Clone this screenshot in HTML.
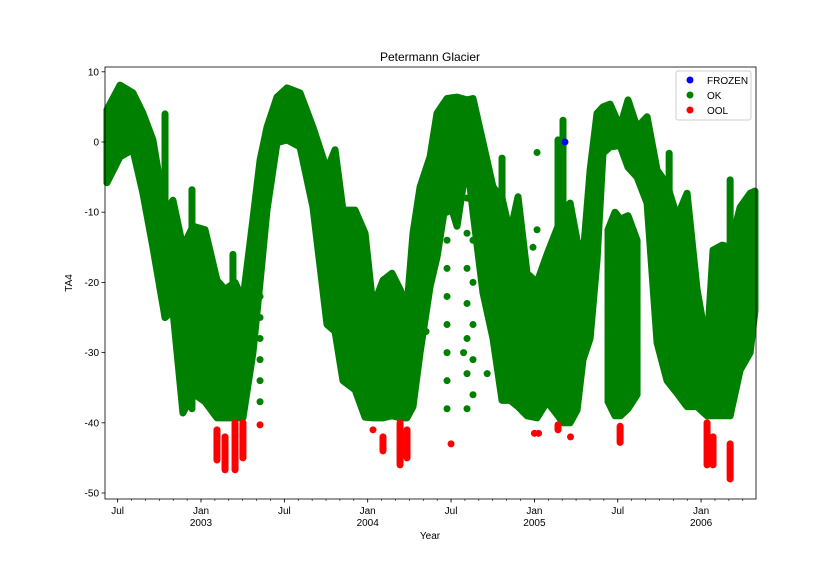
<!DOCTYPE html>
<html><head><meta charset="utf-8"><style>
body{margin:0;background:#fff;}
svg text{font-family:"Liberation Sans","DejaVu Sans",sans-serif;fill:#000;}
</style></head><body>
<svg id="chart" width="840" height="560">
<text x="430" y="61" font-size="12" text-anchor="middle">Petermann Glacier</text>
<text x="430" y="539" font-size="10" text-anchor="middle">Year</text>
<text transform="translate(72,283) rotate(-90)" font-size="10" text-anchor="middle">TA4</text>
<g id="marks"></g>
<g id="axes"></g>
<g>
<rect x="676" y="71" width="75" height="49" rx="2" fill="#fff" stroke="#ccc"/>
<circle cx="690" cy="80" r="3.5" fill="#0000ff"/>
<text x="707" y="84" font-size="10">FROZEN</text>
<circle cx="690" cy="95" r="3.5" fill="#008000"/>
<text x="707" y="99" font-size="10">OK</text>
<circle cx="690" cy="110" r="3.5" fill="#ff0000"/>
<text x="707" y="114" font-size="10">OOL</text>
</g>
</svg>
<script>
// months relative to Jan 2003
const bandMonths=[-6.77,-5.83,-4.90,-4.18,-3.46,-2.59,-2.02,-1.30,-0.58,0.29,1.15,1.73,2.45,3.02,3.74,4.25,4.75,5.47,6.19,7.13,8.06,9.07,9.65,10.22,11.09,11.81,12.38,13.10,13.75,14.33,14.83,15.26,15.77,16.49,16.99,17.71,18.43,19.15,19.58,20.30,21.02,21.67,22.25,22.82,23.47,24.19,24.91,25.70,26.06,26.57,27.07,27.50,28.01,28.51,28.94,29.45,30.17,30.74,31.39,32.11,32.83,33.55,34.27,34.99,35.71,36.43,36.86,37.51,38.09,38.81,39.53,39.88];
const bandLow=[-5.8,-2.1,-1.1,-7.3,-15,-25,-24,-38.6,-35.8,-37,-39.3,-39.3,-39.3,-39.3,-30,-20,-9.7,-0.1,0.3,-0.7,-9.3,-26,-27,-34,-35.3,-39.2,-39.3,-39.3,-39,-39.3,-39.3,-37.7,-30,-20.6,-16.4,-7.3,-12,-2.6,-10,-21.5,-28,-36.8,-36.8,-37.7,-39,-39.3,-37,-39,-40,-40,-38.2,-31,-28,-16.8,-1.6,-0.7,-0.5,-3.6,-5,-8.7,-28.6,-34,-35.8,-37.7,-37.7,-39,-39,-39,-39,-32.5,-30,-24];
const bandHigh=[4.6,8.1,7,4.1,0.3,-10,-8.3,-15,-12,-12.5,-19.7,-21,-20,-22.5,-11,-2.6,2.1,6.4,7.7,7,2.1,-4,-1.1,-9.7,-9.7,-13,-23.5,-19.7,-18.7,-21,-23.5,-13,-6.4,-2.1,4.1,6.2,6.4,6,6.2,-0.1,-6.4,-8,-13,-7.8,-18.7,-20,-16,-12,-10,-8.7,-14,-16.4,-4,4.1,5,5.4,2.1,6,2.1,3.6,-4,-6,-10.7,-7.3,-21,-29.2,-15.4,-14.7,-15,-9.3,-7.3,-7];
const band2Months=[29.3,29.8,30.2,30.74,31.39];
const band2Low=[-37,-39,-39,-38,-36];
const band2High=[-12.5,-10,-11,-10.5,-14];
const spikeMonths=[-2.59,-0.65,2.3,21.67,25.70,26.06,33.7,38.09];
const spikeLow=[-25,-38,-30,-36,-38,-40,-30,-39];
const spikeHigh=[4,-6.8,-16,-2.3,0.3,3.1,-1.6,-5.4];
const okMonths=[4.25,4.25,4.25,4.25,4.25,4.25,17.71,17.71,17.71,17.71,17.71,17.71,17.71,17.71,19.15,19.15,19.15,19.15,19.15,19.15,19.15,19.58,19.58,19.58,19.58,19.58,18.9,20.6,24.19,24.19,16.2,23.9];
const okValues=[-22,-25,-28,-31,-34,-37,-10,-14,-18,-22,-26,-30,-34,-38,-8,-13,-18,-23,-28,-33,-38,-14,-20,-26,-31,-36,-30,-33,-1.5,-12.5,-27,-15];
const redMonths=[1.15,1.73,2.45,3.02,4.25,12.38,13.10,14.33,14.83,18.0,24.0,24.3,25.7,26.6,30.17,36.43,36.86,38.09];
const redLow=[-45.3,-46.7,-46.7,-45,-40.3,-41,-44,-46,-45,-43,-41.5,-41.5,-41,-42,-42.8,-46,-46,-48];
const redHigh=[-41,-42,-40,-40,-40.3,-41,-42,-40,-41,-43,-41.5,-41.5,-40.3,-42,-40.5,-40,-42,-43];
const frozenMonths=[26.2];
const frozenValues=[0];
const yTicks=[-50,-40,-30,-20,-10,0,10];
const xMajor=[-6,0,6,12,18,24,30,36];
const xMajorLabels=["Jul","Jan","Jul","Jan","Jul","Jan","Jul","Jan"];
const xYearLabels=["","2003","","2004","","2005","","2006"];

const NS="http://www.w3.org/2000/svg";
const L=105,R=756,T=67,B=499;
function xs(m){return 201+m*166.7/12;}
function ys(v){return 142-v*7.02;}
function mk(tag,attrs,parent){const e=document.createElementNS(NS,tag);for(const k in attrs)e.setAttribute(k,attrs[k]);parent.appendChild(e);return e;}
const marks=document.getElementById('marks');
const axes=document.getElementById('axes');
function band(ms,lo,hi,name){
  let d="M"+ms.map((m,i)=>xs(m)+","+ys(hi[i])).join("L");
  for(let i=ms.length-1;i>=0;i--)d+="L"+xs(ms[i])+","+ys(lo[i]);
  d+="Z";
  const p=mk('path',{d:d,fill:'#008000',stroke:'#008000','stroke-width':7,'stroke-linejoin':'round'},marks);
  
  
}
band(bandMonths,bandLow,bandHigh,'ok-points-main');
band(band2Months,band2Low,band2High,'ok-points-cluster');
spikeMonths.forEach((m,i)=>{
  const l=mk('line',{x1:xs(m),x2:xs(m),y1:ys(spikeLow[i]),y2:ys(spikeHigh[i]),stroke:'#008000','stroke-width':7,'stroke-linecap':'round'},marks);
  
  
});
okMonths.forEach((m,i)=>{
  const c=mk('circle',{cx:xs(m),cy:ys(okValues[i]),r:3.5,fill:'#008000'},marks);
  
  
});
redMonths.forEach((m,i)=>{
  const l=mk('line',{x1:xs(m),x2:xs(m),y1:ys(redLow[i]),y2:ys(redHigh[i]),stroke:'#ff0000','stroke-width':7,'stroke-linecap':'round'},marks);
  
  
});
frozenMonths.forEach((m,i)=>{
  const c=mk('circle',{cx:xs(m),cy:ys(frozenValues[i]),r:3.5,fill:'#0000ff'},marks);
  
  
});
const frame=mk('rect',{x:L,y:T,width:R-L,height:B-T,fill:'none',stroke:'#000','stroke-width':0.8},axes);


yTicks.forEach(v=>{
  const y=ys(v);
  const t=mk('line',{x1:L-3.5,x2:L,y1:y,y2:y,stroke:'#000','stroke-width':0.8},axes);
  
  
  const tx=mk('text',{x:L-6,y:y+3.5,'font-size':10,'text-anchor':'end'},axes);
  tx.textContent=v;
  
  
});
for(let m=-7;m<=40;m++){
  const x=xs(m);if(x<L||x>R)continue;
  const t=mk('line',{x1:x,x2:x,y1:B,y2:B+2,stroke:'#000','stroke-width':0.6},axes);
  
  
}
xMajor.forEach((m,i)=>{
  const x=xs(m);
  const t=mk('line',{x1:x,x2:x,y1:B,y2:B+3.5,stroke:'#000','stroke-width':0.8},axes);
  
  
  const tx=mk('text',{x:x,y:B+15,'font-size':10,'text-anchor':'middle'},axes);
  tx.textContent=xMajorLabels[i];
  
  
  if(xYearLabels[i]){
    const ty=mk('text',{x:x,y:B+27,'font-size':10,'text-anchor':'middle'},axes);
    ty.textContent=xYearLabels[i];
    
    
  }
});
</script>
</body></html>
